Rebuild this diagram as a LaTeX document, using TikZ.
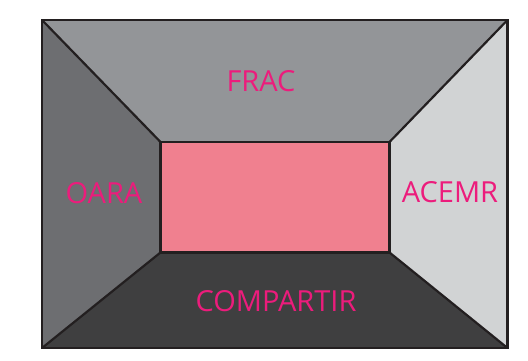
\documentclass[tikz,border=0pt]{standalone}
\usepackage{fontspec}
\setmainfont{Open Sans}
\definecolor{topc}{HTML}{939598}
\definecolor{leftc}{HTML}{6D6E71}
\definecolor{rightc}{HTML}{D1D3D4}
\definecolor{botc}{HTML}{3F3F40}
\definecolor{innerc}{HTML}{F0808F}
\definecolor{edgec}{HTML}{231F20}
\definecolor{labc}{HTML}{EC1C7C}
\tikzset{
  panel/.style={draw=edgec, line width=2.2pt, line join=miter},
  lab/.style={text=labc, font=\fontsize{29}{29}\selectfont, inner sep=0pt, anchor=center}
}
\begin{document}
\begin{tikzpicture}[x=1pt,y=-1pt]
\useasboundingbox (0,0) rectangle (528,361);
\coordinate (A) at (42,20);
\coordinate (B) at (507.5,20);
\coordinate (C) at (507.5,348);
\coordinate (D) at (42,348);
\coordinate (a) at (160.5,142);
\coordinate (b) at (389.5,142);
\coordinate (c) at (389.5,252.5);
\coordinate (d) at (160.5,252.5);
\fill[topc] (A) -- (B) -- (b) -- (a) -- cycle;
\fill[rightc] (B) -- (C) -- (c) -- (b) -- cycle;
\fill[botc] (C) -- (D) -- (d) -- (c) -- cycle;
\fill[leftc] (D) -- (A) -- (a) -- (d) -- cycle;
\fill[innerc] (a) rectangle (c);
\draw[panel] (A) -- (a) (B) -- (b) (C) -- (c) (D) -- (d);
\draw[panel] (a) -- (b) -- (c) -- (d) -- cycle;
\draw[panel] (A) -- (B) -- (C) -- (D) -- cycle;
\node[lab] (frac) at (261,81.5) {FRAC};
\node[lab] (oara) at (104,193) {OARA};
\node[lab] (acemr) at (450,192.5) {ACEMR};
\node[lab] (comp) at (276,301) {COMPARTIR};
\end{tikzpicture}
\end{document}
